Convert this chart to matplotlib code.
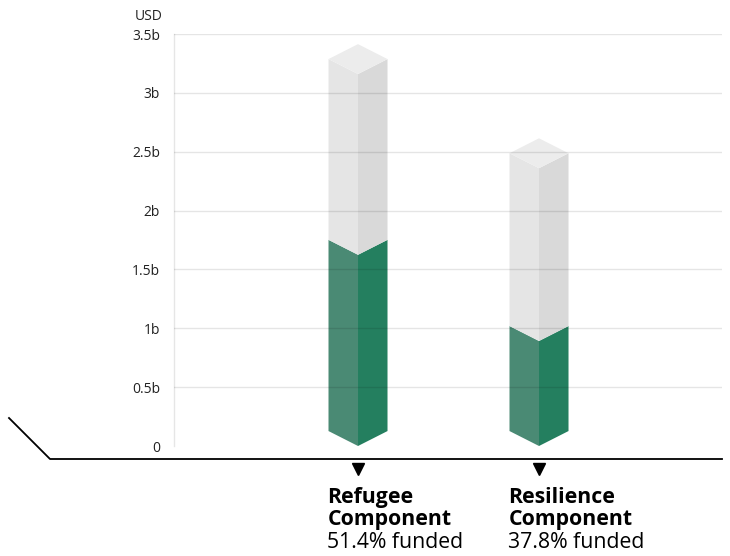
import matplotlib
matplotlib.use("Agg")
import matplotlib.pyplot as plt
from matplotlib.patches import Polygon
from matplotlib import transforms

plt.rcParams['font.family'] = ['Open Sans', 'DejaVu Sans']

# Data (USD billions)
components = ["Refugee\nComponent", "Resilience\nComponent"]
required = [3.16, 2.36]
funded_pct = [51.4, 37.8]
y_ticks = [0, 0.5, 1, 1.5, 2, 2.5, 3, 3.5]
y_tick_labels = ["0", "0.5b", "1b", "1.5b", "2b", "2.5b", "3b", "3.5b"]

# Styling
GRAY_LEFT, GRAY_RIGHT, GRAY_TOP = "#e5e5e5", "#d9d9d9", "#ececec"
GREEN_LEFT, GREEN_RIGHT = "#4a8a74", "#247f5f"
TEXT = "#222222"

W, H = 730, 556
fig = plt.figure(figsize=(W / 100, H / 100), dpi=100)
ax = fig.add_axes([174 / W, (H - 446) / H, 548 / W, 412 / H])

ax.set_ylim(0, 3.5)
ax.set_xlim(-1.0166, 2.011)
half_w = 0.163       # half width of a prism in category units
depth = 0.127        # isometric rise of the top/bottom diamonds in value units

for i, (req, pct) in enumerate(zip(required, funded_pct)):
    fund = req * pct / 100.0
    xl, xc, xr = i - half_w, i, i + half_w
    # green (funded) faces
    ax.add_patch(Polygon([(xl, depth), (xc, 0), (xc, fund), (xl, fund + depth)],
                         closed=True, fc=GREEN_LEFT, ec="none", zorder=2))
    ax.add_patch(Polygon([(xc, 0), (xr, depth), (xr, fund + depth), (xc, fund)],
                         closed=True, fc=GREEN_RIGHT, ec="none", zorder=2))
    # gray (unfunded) faces
    ax.add_patch(Polygon([(xl, fund + depth), (xc, fund), (xc, req), (xl, req + depth)],
                         closed=True, fc=GRAY_LEFT, ec="none", zorder=2))
    ax.add_patch(Polygon([(xc, fund), (xr, fund + depth), (xr, req + depth), (xc, req)],
                         closed=True, fc=GRAY_RIGHT, ec="none", zorder=2))
    # top diamond
    ax.add_patch(Polygon([(xl, req + depth), (xc, req), (xr, req + depth), (xc, req + 2 * depth)],
                         closed=True, fc=GRAY_TOP, ec="none", zorder=2))

# gridlines on top of the prisms, faint
for t in y_ticks[1:]:
    ax.axhline(t, color="black", alpha=0.1, lw=1, zorder=3)

for s in ["top", "right", "bottom"]:
    ax.spines[s].set_visible(False)
ax.spines["left"].set_color("#e6e6e6")
ax.spines["left"].set_linewidth(1)

ax.set_yticks(y_ticks)
ax.set_yticklabels(y_tick_labels)
ax.tick_params(axis="y", length=0, pad=10, labelsize=10, labelcolor=TEXT)
ax.set_xticks([])

# unit label
ax.text(-11 / 548, 1.0 + 14 / 412, "USD", transform=ax.transAxes, ha="right",
        va="baseline", fontsize=10, color=TEXT)

# floor line with angled corner
fig.add_artist(plt.Line2D([9 / W, 50 / W, 722 / W],
                          [(H - 418) / H, (H - 459) / H, (H - 459) / H],
                          color="black", lw=1.3))

# pointer triangles and labels under each prism
blend = transforms.blended_transform_factory(ax.transData, ax.transAxes)
for i, (name, pct) in enumerate(zip(components, funded_pct)):
    ax.plot([i], [(446 - 469) / 412], marker="v", ms=8, color="black",
            transform=blend, clip_on=False)
    x0 = i - half_w - 0.006
    ax.text(x0, (446 - 525) / 412, name, transform=blend, ha="left", va="baseline",
            fontsize=15.3, fontweight="bold", color="black", linespacing=1.05)
    ax.text(x0, (446 - 548) / 412, f"{pct}% funded", transform=blend, ha="left",
            va="baseline", fontsize=15.3, color="black")

fig.savefig("out.png", dpi=100)
